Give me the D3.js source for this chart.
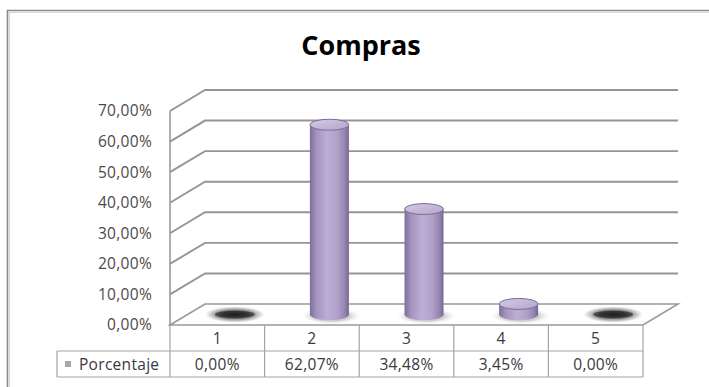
<!DOCTYPE html>
<html><head><meta charset="utf-8">
<script src="https://cdn.jsdelivr.net/npm/d3@7/dist/d3.min.js"></script>
<style>html,body{margin:0;padding:0;background:#fff;}svg{display:block;}</style>
</head><body>
<script>
const title = "Compras";
const seriesName = "Porcentaje";
const categories = ["1", "2", "3", "4", "5"];
const values = [0, 62.07, 34.48, 3.45, 0];
const yTicks = [0, 10, 20, 30, 40, 50, 60, 70];

const W = 709, H = 387;
const fmt = v => v.toFixed(2).replace(".", ",") + "%";
const svg = d3.select("body").append("svg").attr("width", W).attr("height", H);
const defs = svg.append("defs");

// 3D depth offset (front plane = back plane shifted by -DX, +DY)
const DX = 35, DY = 21;
const x = d3.scaleBand().domain(categories).range([170, 643]);
const y = d3.scaleLinear().domain([0, 70]).range([304, 90]);
const x0 = x.range()[0], x1 = x.range()[1];

// gradients
const body = defs.append("linearGradient").attr("id", "body").attr("x1", 0).attr("x2", 1).attr("y1", 0).attr("y2", 0);
[[0, "#7f6f9c"], [0.18, "#a595c0"], [0.45, "#bcaed4"], [0.7, "#b1a2ca"], [0.9, "#9383b0"], [1, "#76668f"]]
  .forEach(([o, c]) => body.append("stop").attr("offset", o).attr("stop-color", c));
const topG = defs.append("linearGradient").attr("id", "topG").attr("x1", 0).attr("x2", 1).attr("y1", 0).attr("y2", 1);
[[0, "#d4cbe4"], [1, "#b3a5cb"]].forEach(([o, c]) => topG.append("stop").attr("offset", o).attr("stop-color", c));
const shadow = defs.append("radialGradient").attr("id", "shadow");
[[0, "#8a8a8a", 0.9], [0.6, "#b0b0b0", 0.6], [1, "#ffffff", 0]]
  .forEach(([o, c, a]) => shadow.append("stop").attr("offset", o).attr("stop-color", c).attr("stop-opacity", a));
const halo = defs.append("radialGradient").attr("id", "halo");
[[0, "#707070", 1], [0.65, "#9a9a9a", 0.9], [0.85, "#cfcfcf", 0.6], [1, "#ffffff", 0]]
  .forEach(([o, c, a]) => halo.append("stop").attr("offset", o).attr("stop-color", c).attr("stop-opacity", a));
const zero = defs.append("radialGradient").attr("id", "zero");
[[0, "#1e1e1e", 1], [0.7, "#353535", 1], [1, "#5a5a5a", 1]]
  .forEach(([o, c, a]) => zero.append("stop").attr("offset", o).attr("stop-color", c).attr("stop-opacity", a));

// outer chart border
svg.append("path").attr("d", `M7.5,${H} L7.5,10.5 L${W},10.5`)
  .attr("fill", "none").attr("stroke", "#8a8a8a").attr("stroke-width", 1.6);
svg.append("path").attr("d", `M9.5,${H} L9.5,12.5 L${W},12.5`)
  .attr("fill", "none").attr("stroke", "#d8d8d8").attr("stroke-width", 1);

// title
svg.append("text").attr("x", 361).attr("y", 55).attr("text-anchor", "middle")
  .attr("font-family", "'Open Sans', sans-serif").attr("font-weight", 700)
  .attr("font-size", 27).attr("fill", "#000").text(title);

// floor
const g = svg.append("g");
g.append("path")
  .attr("d", `M${x0},${y(0) + DY} L${x0 + DX},${y(0)} L${x1 + DX},${y(0)} L${x1},${y(0) + DY} Z`)
  .attr("fill", "#fff").attr("stroke", "#999").attr("stroke-width", 1.6);

// gridlines (side wall diagonal + back wall)
g.selectAll(".grid").data(yTicks.filter(t => t > 0)).join("path")
  .attr("d", t => `M${x0},${y(t) + DY} L${x0 + DX},${y(t)} L${x1 + DX},${y(t)}`)
  .attr("fill", "none").attr("stroke", "#959595").attr("stroke-width", 1.9);

// vertical axis line (front)
g.append("line").attr("x1", x0).attr("x2", x0)
  .attr("y1", y(70) + DY).attr("y2", y(0) + DY)
  .attr("stroke", "#9a9a9a").attr("stroke-width", 1.6);

// tick labels
g.selectAll(".tick").data(yTicks).join("text")
  .attr("x", 152).attr("y", t => y(t) + DY).attr("dy", "0.35em")
  .attr("text-anchor", "end").attr("font-family", "'Open Sans', sans-serif")
  .attr("font-size", 15.5).attr("letter-spacing", 0.3).attr("fill", "#4a4a4a")
  .text(t => fmt(t));

// bars (cylinders)
const rx = 19.5, ry = 5.5;
const data = categories.map((c, i) => ({ c, v: values[i] }));
const bars = g.selectAll(".bar").data(data).join("g");
bars.each(function (d) {
  const s = d3.select(this);
  const cx = x(d.c) + x.bandwidth() / 2 + DX / 2;
  const base = y(0) + DY / 2;
  const top = y(d.v) + DY / 2;
  if (d.v <= 0) {
    s.append("ellipse").attr("cx", cx).attr("cy", base).attr("rx", 31).attr("ry", 8.5)
      .attr("fill", "url(#halo)");
    s.append("ellipse").attr("cx", cx).attr("cy", base).attr("rx", 20).attr("ry", 4.2)
      .attr("fill", "url(#zero)");
    return;
  }
  s.append("ellipse").attr("cx", cx + 2).attr("cy", base + 1.5).attr("rx", 31).attr("ry", 8.5)
    .attr("fill", "url(#shadow)");
  s.append("path")
    .attr("d", `M${cx - rx},${top} L${cx - rx},${base} A${rx},${ry} 0 0 0 ${cx + rx},${base} L${cx + rx},${top} Z`)
    .attr("fill", "url(#body)");
  s.append("ellipse").attr("cx", cx).attr("cy", top).attr("rx", rx).attr("ry", ry)
    .attr("fill", "url(#topG)").attr("stroke", "#7c6c98").attr("stroke-width", 1);
});

// data table
const r0 = y(0) + DY, r1 = r0 + 26, r2 = r1 + 26, lx = 57;
const tbl = svg.append("g").attr("stroke", "#a3a3a3").attr("stroke-width", 1.2);
tbl.append("line").attr("x1", lx).attr("x2", x1).attr("y1", r1).attr("y2", r1);
tbl.append("line").attr("x1", lx).attr("x2", x1).attr("y1", r2).attr("y2", r2);
tbl.append("line").attr("x1", lx).attr("x2", lx).attr("y1", r1).attr("y2", r2);
tbl.selectAll(".vl").data(categories.map(c => x(c)).concat([x1])).join("line")
  .attr("x1", d => d).attr("x2", d => d).attr("y1", r0).attr("y2", r2);

const txt = svg.append("g").attr("font-family", "'Open Sans', sans-serif")
  .attr("font-size", 15.5).attr("letter-spacing", 0.3).attr("fill", "#3a3a3a");
txt.selectAll(".cat").data(categories).join("text")
  .attr("x", c => x(c) + x.bandwidth() / 2).attr("y", (r0 + r1) / 2).attr("dy", "0.38em")
  .attr("text-anchor", "middle").text(c => c);
txt.selectAll(".val").data(data).join("text")
  .attr("x", d => x(d.c) + x.bandwidth() / 2).attr("y", (r1 + r2) / 2).attr("dy", "0.38em")
  .attr("text-anchor", "middle").text(d => fmt(d.v));
svg.append("rect").attr("x", 65).attr("y", (r1 + r2) / 2 - 3).attr("width", 6).attr("height", 6)
  .attr("fill", "#a9a9a9");
txt.append("text").attr("x", 79).attr("y", (r1 + r2) / 2).attr("dy", "0.38em")
  .text(seriesName);
</script>
</body></html>
